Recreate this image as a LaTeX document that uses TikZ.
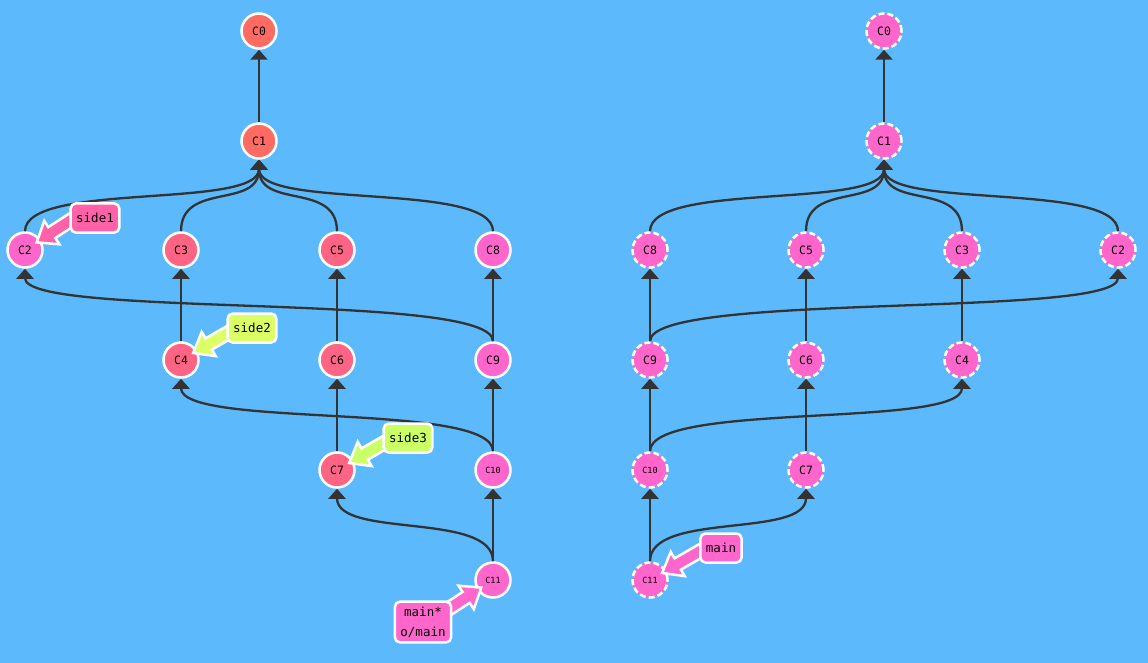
\documentclass[tikz,border=0pt]{standalone}
\usepackage{fontspec}
\setmonofont{DejaVu Sans Mono}
\usetikzlibrary{arrows.meta,calc}
\definecolor{bg}{HTML}{5BB9FC}
\definecolor{salmon}{HTML}{FF6B63}
\definecolor{redpink}{HTML}{FF6485}
\definecolor{pinkc}{HTML}{FF66CC}
\definecolor{hotpink}{HTML}{FF62A8}
\definecolor{limeA}{HTML}{DDFF66}
\definecolor{limeB}{HTML}{CCFF66}
\definecolor{linec}{HTML}{333333}
\newcommand\tagarrow[3]{%
  \begin{scope}[shift={(#1)}, rotate=#2]
    \draw[tagarrowline, fill=#3] (14,0) -- (32,14) -- (32,6.5) -- (66,6.5) -- (66,-6.5) -- (32,-6.5) -- (32,-14) -- cycle;
  \end{scope}}
\begin{document}
\begin{tikzpicture}[x=1pt,y=-1pt,
  commit/.style={circle, minimum size=35pt, inner sep=0pt, draw=white, line width=2.5pt,
    font=\ttfamily\fontsize{11.5}{11.5}\selectfont, text=black},
  tiny/.style={font=\ttfamily\fontsize{8.5}{8.5}\selectfont},
  ghost/.style={commit, fill=pinkc, dash pattern=on 6pt off 3pt},
  link/.style={draw=linec, line width=2.3pt, -{Triangle[width=17pt,length=10pt]}},
  tag/.style={rounded corners=5pt, draw=white, line width=2.5pt, align=center,
    font=\ttfamily\fontsize{12.5}{20}\selectfont, inner xsep=5.5pt, inner ysep=5pt,
    minimum height=29pt, text=black},
  tagarrowline/.style={draw=white, line width=2.5pt, line join=miter}]
\fill[bg] (0,0) rectangle (1148,663);
\useasboundingbox (0,0) rectangle (1148,663);

% ---------- left graph ----------
\node[commit, fill=salmon] (C0) at (259,31) {C0};
\node[commit, fill=salmon] (C1) at (259,141) {C1};
\node[commit, fill=pinkc] (C2) at (25,250) {C2};
\node[commit, fill=redpink] (C3) at (181,250) {C3};
\node[commit, fill=redpink] (C5) at (337,250) {C5};
\node[commit, fill=pinkc] (C8) at (493,250) {C8};
\node[commit, fill=redpink] (C4) at (181,360) {C4};
\node[commit, fill=redpink] (C6) at (337,360) {C6};
\node[commit, fill=pinkc] (C9) at (493,360) {C9};
\node[commit, fill=redpink] (C7) at (337,470) {C7};
\node[commit, tiny, fill=pinkc] (C10) at (493,470) {C10};
\node[commit, tiny, fill=pinkc] (C11) at (493,580) {C11};

\draw[link] (C1.north) -- (C0.south);
\foreach \c in {C2,C3,C5,C8}
  \draw[link] (\c.north) .. controls +(0,-50) and +(0,50) .. (C1.south);
\draw[link] (C4.north) .. controls +(0,-50) and +(0,50) .. (C3.south);
\draw[link] (C6.north) .. controls +(0,-50) and +(0,50) .. (C5.south);
\draw[link] (C9.north) .. controls +(0,-50) and +(0,50) .. (C8.south);
\draw[link] (C9.north) .. controls +(0,-50) and +(0,50) .. (C2.south);
\draw[link] (C10.north) .. controls +(0,-50) and +(0,50) .. (C9.south);
\draw[link] (C10.north) .. controls +(0,-50) and +(0,50) .. (C4.south);
\draw[link] (C7.north) .. controls +(0,-50) and +(0,50) .. (C6.south);
\draw[link] (C11.north) .. controls +(0,-50) and +(0,50) .. (C10.south);
\draw[link] (C11.north) .. controls +(0,-50) and +(0,50) .. (C7.south);

\tagarrow{C2}{33}{hotpink}
\tagarrow{C4}{30}{limeA}
\tagarrow{C7}{30}{limeB}
\tagarrow{C11}{213}{pinkc}
\node[tag, fill=hotpink] (side1) at (95,218) {side1};
\node[tag, fill=limeA] (side2) at (252,328) {side2};
\node[tag, fill=limeB] (side3) at (408,438) {side3};
\node[tag, fill=pinkc] (mainL) at (423,622) {main*\\o/main};

% ---------- right graph ----------
\node[ghost] (rC0) at (884,31) {C0};
\node[ghost] (rC1) at (884,141) {C1};
\node[ghost] (rC8) at (650,250) {C8};
\node[ghost] (rC5) at (806,250) {C5};
\node[ghost] (rC3) at (962,250) {C3};
\node[ghost] (rC2) at (1118,250) {C2};
\node[ghost] (rC9) at (650,360) {C9};
\node[ghost] (rC6) at (806,360) {C6};
\node[ghost] (rC4) at (962,360) {C4};
\node[ghost, tiny] (rC10) at (650,470) {C10};
\node[ghost] (rC7) at (806,470) {C7};
\node[ghost, tiny] (rC11) at (650,580) {C11};

\draw[link] (rC1.north) -- (rC0.south);
\foreach \c in {rC8,rC5,rC3,rC2}
  \draw[link] (\c.north) .. controls +(0,-50) and +(0,50) .. (rC1.south);
\draw[link] (rC9.north) .. controls +(0,-50) and +(0,50) .. (rC8.south);
\draw[link] (rC9.north) .. controls +(0,-50) and +(0,50) .. (rC2.south);
\draw[link] (rC6.north) .. controls +(0,-50) and +(0,50) .. (rC5.south);
\draw[link] (rC4.north) .. controls +(0,-50) and +(0,50) .. (rC3.south);
\draw[link] (rC10.north) .. controls +(0,-50) and +(0,50) .. (rC9.south);
\draw[link] (rC10.north) .. controls +(0,-50) and +(0,50) .. (rC4.south);
\draw[link] (rC7.north) .. controls +(0,-50) and +(0,50) .. (rC6.south);
\draw[link] (rC11.north) .. controls +(0,-50) and +(0,50) .. (rC10.south);
\draw[link] (rC11.north) .. controls +(0,-50) and +(0,50) .. (rC7.south);

\tagarrow{rC11}{30}{pinkc}
\node[tag, fill=pinkc] (mainR) at (721,548) {main};
\end{tikzpicture}
\end{document}
